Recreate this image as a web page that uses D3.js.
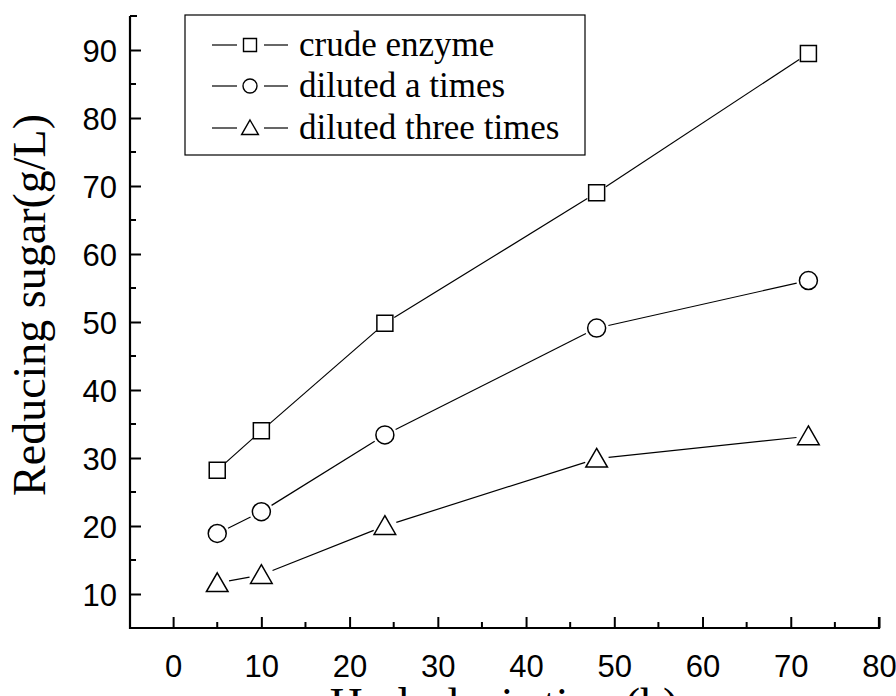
<!DOCTYPE html>
<html><head><meta charset="utf-8">
<script src="https://cdn.jsdelivr.net/npm/d3@7"></script>
<style>
body{margin:0;background:#fff}
.serif{font-family:"Liberation Serif","Times New Roman",Times,serif}
.sans{font-family:"Liberation Sans",Arial,Helvetica,sans-serif}
</style>
</head><body>
<svg id="c" width="896" height="696"></svg>
<script>
const hours = [5, 10, 24, 48, 72];
const crudeEnzyme = [28.2, 34.0, 49.8, 69.0, 89.5];
const dilutedA = [18.9, 22.1, 33.4, 49.1, 56.1];
const dilutedThree = [11.6, 12.8, 20.0, 29.9, 33.2];
const seriesNames = ["crude enzyme", "diluted a times", "diluted three times"];
const markerTypes = ["square", "circle", "triangle"];
const xTicks = [0, 10, 20, 30, 40, 50, 60, 70, 80];
const yTicks = [10, 20, 30, 40, 50, 60, 70, 80, 90];

const svg = d3.select("#c");
const x = d3.scaleLinear().domain([-5, 80]).range([129, 879]);
const y = d3.scaleLinear().domain([5, 95]).range([628, 16]);

const series = [crudeEnzyme, dilutedA, dilutedThree].map((vals, i) => ({
  name: seriesNames[i], type: markerTypes[i],
  pts: hours.map((h, j) => [x(h), y(vals[j])])
}));

function markerPath(type, s) {
  if (type === "square") return `M${-s/2},${-s/2}h${s}v${s}h${-s}Z`;
  if (type === "circle") { const r = s/2; return `M${r},0A${r},${r} 0 1 1 ${-r},0A${r},${r} 0 1 1 ${r},0Z`; }
  const w = s * 1.2, h = s * 1.04;
  return `M0,${-h*0.55}L${w/2},${h*0.45}L${-w/2},${h*0.45}Z`;
}

const gap = {square: 11, circle: 12, triangle: 12};
series.forEach(s => {
  for (let k = 0; k < s.pts.length - 1; k++) {
    const [x1, y1] = s.pts[k], [x2, y2] = s.pts[k+1];
    const dx = x2 - x1, dy = y2 - y1, L = Math.hypot(dx, dy);
    const g = gap[s.type];
    if (L <= 2*g) continue;
    svg.append("line")
      .attr("x1", x1 + dx/L*g).attr("y1", y1 + dy/L*g)
      .attr("x2", x2 - dx/L*g).attr("y2", y2 - dy/L*g)
      .attr("stroke", "#000").attr("stroke-width", 1.2);
  }
});
const msize = {square: 16, circle: 18, triangle: 18};
series.forEach(s => {
  svg.append("g").selectAll("path").data(s.pts).join("path")
    .attr("transform", d => `translate(${d[0]},${d[1]})`)
    .attr("d", markerPath(s.type, msize[s.type]))
    .attr("fill", "#fff").attr("stroke", "#000").attr("stroke-width", 1.5);
});

const xAxis = svg.append("g").attr("transform", "translate(0,628)")
  .call(d3.axisBottom(x).tickValues(xTicks).tickSize(-11).tickPadding(0).tickFormat(d3.format("d")));
const yAxis = svg.append("g").attr("transform", "translate(130,0)")
  .call(d3.axisLeft(y).tickValues(yTicks).tickSize(-11).tickPadding(0).tickFormat(d3.format("d")));
[xAxis, yAxis].forEach(a => {
  a.attr("font-family", null).attr("font-size", null);
  a.select(".domain").remove();
  a.selectAll(".tick line").attr("stroke", "#000").attr("stroke-width", 2);
  a.selectAll("text").attr("class", "sans").style("font-size", "31px").attr("fill", "#000");
});
xAxis.selectAll("text").attr("y", 49).attr("dy", null);
yAxis.selectAll("text").attr("x", -13).attr("dy", "0.36em");
const xMinor = d3.range(-5, 80, 10).filter(v => v > -5);
svg.append("g").selectAll("line").data(xMinor).join("line")
  .attr("x1", d => x(d)).attr("x2", d => x(d)).attr("y1", 628).attr("y2", 622)
  .attr("stroke", "#000").attr("stroke-width", 2);
const yMinor = d3.range(15, 95, 10);
svg.append("g").selectAll("line").data(yMinor).join("line")
  .attr("x1", 130).attr("x2", 136).attr("y1", d => y(d)).attr("y2", d => y(d))
  .attr("stroke", "#000").attr("stroke-width", 2);
svg.append("path").attr("d", `M130,${y(95)}V628H${x(80)}V617`)
  .attr("fill", "none").attr("stroke", "#000").attr("stroke-width", 2.2);
svg.append("line").attr("x1", 130).attr("x2", 137).attr("y1", y(95)).attr("y2", y(95))
  .attr("stroke", "#000").attr("stroke-width", 2);

svg.append("text").attr("class", "serif").attr("transform", `translate(45,305) rotate(-90)`)
  .attr("text-anchor", "middle").style("font-size", "46px").text("Reducing sugar(g/L)");
svg.append("text").attr("class", "serif").attr("x", (x(-5) + x(80)) / 2).attr("y", 720)
  .attr("text-anchor", "middle").style("font-size", "46px").text("Hydrolysis time(h)");

const lg = svg.append("g");
lg.append("rect").attr("x", 185).attr("y", 15).attr("width", 400).attr("height", 140)
  .attr("fill", "#fff").attr("stroke", "#000").attr("stroke-width", 1.2);
const rowY = [45, 86, 128];
const lsize = {square: 13, circle: 14, triangle: 14};
series.forEach((s, i) => {
  const g = lg.append("g").attr("transform", `translate(0,${rowY[i]})`);
  g.append("line").attr("x1", 212).attr("x2", 237).attr("y1", 0).attr("y2", 0).attr("stroke", "#000").attr("stroke-width", 1.2);
  g.append("line").attr("x1", 264).attr("x2", 288).attr("y1", 0).attr("y2", 0).attr("stroke", "#000").attr("stroke-width", 1.2);
  g.append("path").attr("transform", "translate(250,0)").attr("d", markerPath(s.type, lsize[s.type]))
    .attr("fill", "#fff").attr("stroke", "#000").attr("stroke-width", 1.4);
  g.append("text").attr("class", "serif").attr("x", 299).attr("y", 11).style("font-size", "35px").text(s.name);
});
</script>
</body></html>
